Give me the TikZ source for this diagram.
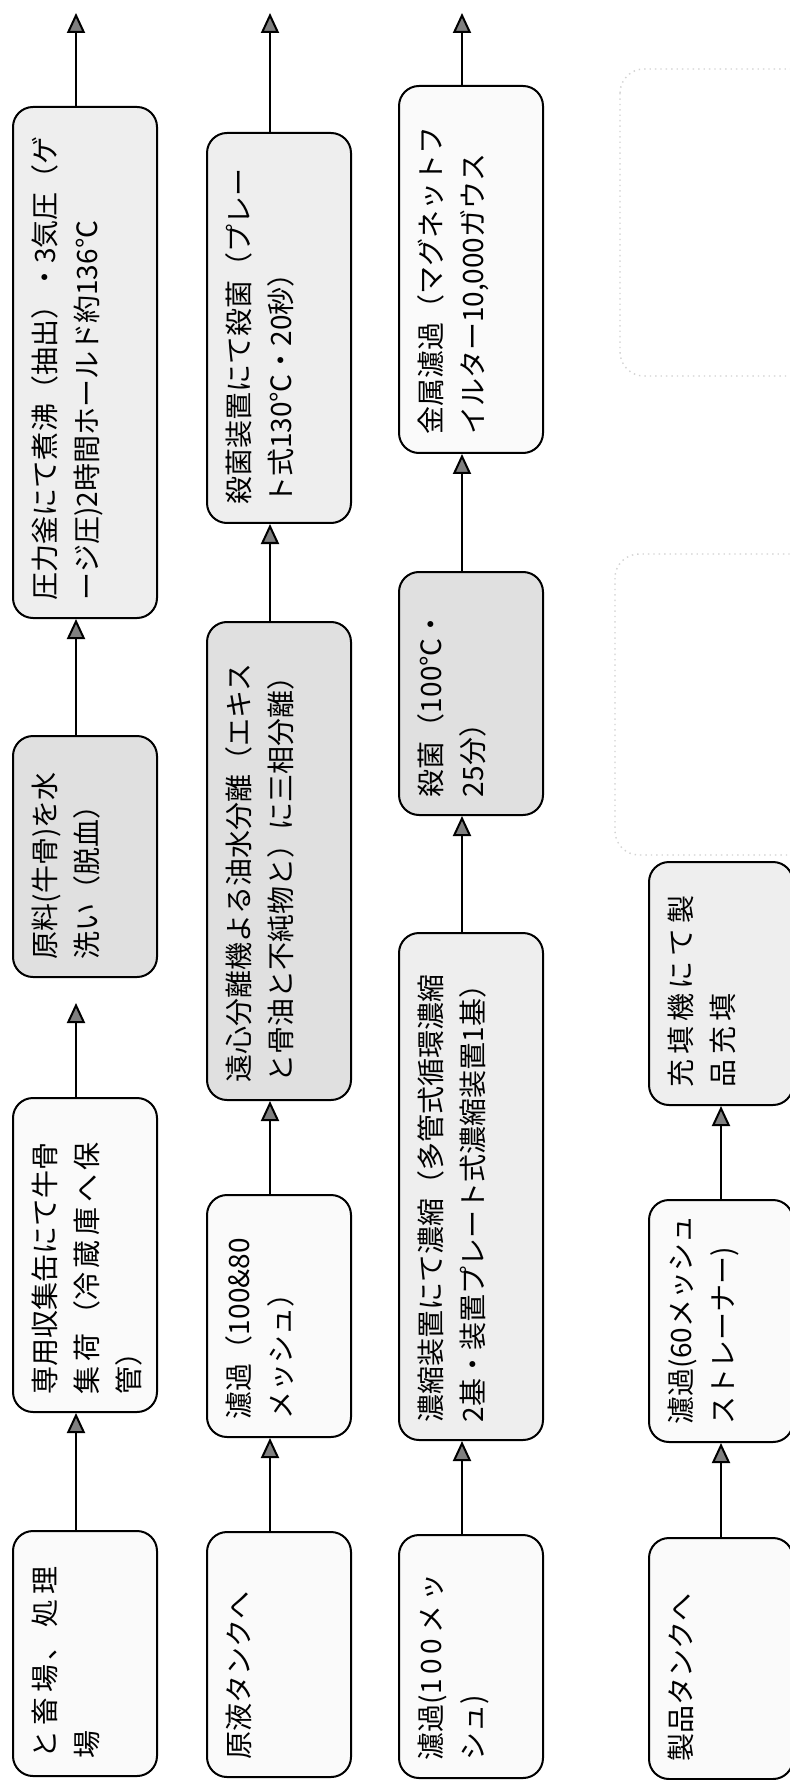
\documentclass[tikz,border=0pt]{standalone}
\usepackage{fontspec}
\usepackage{graphicx}
\newfontfamily\jpfont{Noto Sans CJK JP}
\usetikzlibrary{arrows.meta}
\newcommand{\flowtext}[2]{\rotatebox{90}{\parbox[c][53pt][t]{\dimexpr#1-18pt\relax}{\raggedright#2}}}

\begin{document}
\begin{tikzpicture}[x=0.5pt,y=-0.5pt]
\tikzstyle{stepbox}=[draw=black, line width=1pt, rounded corners=10pt, inner xsep=9.5pt, inner ysep=9pt, font=\jpfont\fontsize{14pt}{21pt}\selectfont]
\tikzstyle{dense}=[fill=gray!24]
\tikzstyle{halfdense}=[fill=gray!13]
\tikzstyle{sparse}=[fill=gray!4]
\tikzstyle{flowarrow}=[line width=1pt, -{Triangle[width=9pt,length=10pt,fill=black!50]}]
\tikzstyle{ghost}=[draw=gray!35, dotted, line width=0.7pt, rounded corners=12pt]
\useasboundingbox (0,0) rectangle (789,1780);
\fill [white] (0,0) rectangle (789,1780);
\draw [ghost] (620,69) rectangle (815,376);
\draw [ghost] (615,554) rectangle (815,855);
\node [stepbox,sparse] (a1) at (85,1653.5) {\flowtext{122.5pt}{と\,畜\,場\,、\,処\,理\\場}};
\node [stepbox,sparse] (a2) at (85,1255) {\flowtext{157pt}{専用収集缶にて牛骨\\集\,荷\,（冷\,蔵\,庫\,へ\,保\\管）}};
\node [stepbox,dense] (a3) at (85,856.5) {\flowtext{120.5pt}{原料(牛骨)を水\\洗い（脱血）}};
\node [stepbox,halfdense] (a4) at (85,362.5) {\flowtext{255.5pt}{圧力釜にて煮沸（抽出）・3気圧（ゲ\\ージ圧)2時間ホールド約136℃}};
\node [stepbox,sparse] (b1) at (279,1654.5) {\flowtext{122.5pt}{原液タンクへ}};
\node [stepbox,sparse] (b2) at (279,1316) {\flowtext{121pt}{濾過（100\&80\\メッシュ）}};
\node [stepbox,dense] (b3) at (279,861) {\flowtext{239pt}{遠心分離機よる油水分離（エキス\\と骨油と不純物と）に三相分離）}};
\node [stepbox,halfdense] (b4) at (279,328) {\flowtext{195pt}{殺菌装置にて殺菌（プレー\\ト式130℃・20秒）}};
\node [stepbox,sparse] (c1) at (471,1656.5) {\flowtext{121.5pt}{濾過(1\,0\,0\,メ\,ッ\\シュ)}};
\node [stepbox,halfdense] (c2) at (471,1186.5) {\flowtext{253.5pt}{濃縮装置にて濃縮（多管式循環濃縮\\2基・装置プレート式濃縮装置1基）}};
\node [stepbox,dense] (c3) at (471,693.5) {\flowtext{121.5pt}{殺菌（100℃・\\25分）}};
\node [stepbox,sparse] (c4) at (471,269.5) {\flowtext{183.5pt}{金属濾過（マグネットフ\\イルター10,000ガウス}};
\node [stepbox,sparse] (d1) at (721,1658.5) {\flowtext{120.5pt}{製品タンクへ}};
\node [stepbox,sparse] (d2) at (721,1321) {\flowtext{121pt}{濾過(60メッシュ\\ストレーナー)}};
\node [stepbox,halfdense] (d3) at (721,983.5) {\flowtext{121.5pt}{充\,填\,機\,に\,て\,製\\品\,充\,填}};
\coordinate (outa) at (76,13);
\coordinate (outb) at (270,13);
\coordinate (outc) at (462,13);
\draw [flowarrow] ([xshift=-4.5pt]a1.north) -- ([xshift=-4.5pt]a2.south);
\draw [flowarrow, shorten >=12.5pt] ([xshift=-4.5pt]a2.north) -- ([xshift=-4.5pt]a3.south);
\draw [flowarrow] ([xshift=-4.5pt]a3.north) -- ([xshift=-4.5pt]a4.south);
\draw [flowarrow] ([xshift=-4.5pt]a4.north) -- (outa);
\draw [flowarrow] ([xshift=-4.5pt]b1.north) -- ([xshift=-4.5pt]b2.south);
\draw [flowarrow] ([xshift=-4.5pt]b2.north) -- ([xshift=-4.5pt]b3.south);
\draw [flowarrow] ([xshift=-4.5pt]b3.north) -- ([xshift=-4.5pt]b4.south);
\draw [flowarrow] ([xshift=-4.5pt]b4.north) -- (outb);
\draw [flowarrow] ([xshift=-4.5pt]c1.north) -- ([xshift=-4.5pt]c2.south);
\draw [flowarrow] ([xshift=-4.5pt]c2.north) -- ([xshift=-4.5pt]c3.south);
\draw [flowarrow] ([xshift=-4.5pt]c3.north) -- ([xshift=-4.5pt]c4.south);
\draw [flowarrow] ([xshift=-4.5pt]c4.north) -- (outc);
\draw [flowarrow] (d1.north) -- (d2.south);
\draw [flowarrow] (d2.north) -- (d3.south);
\end{tikzpicture}
\end{document}
